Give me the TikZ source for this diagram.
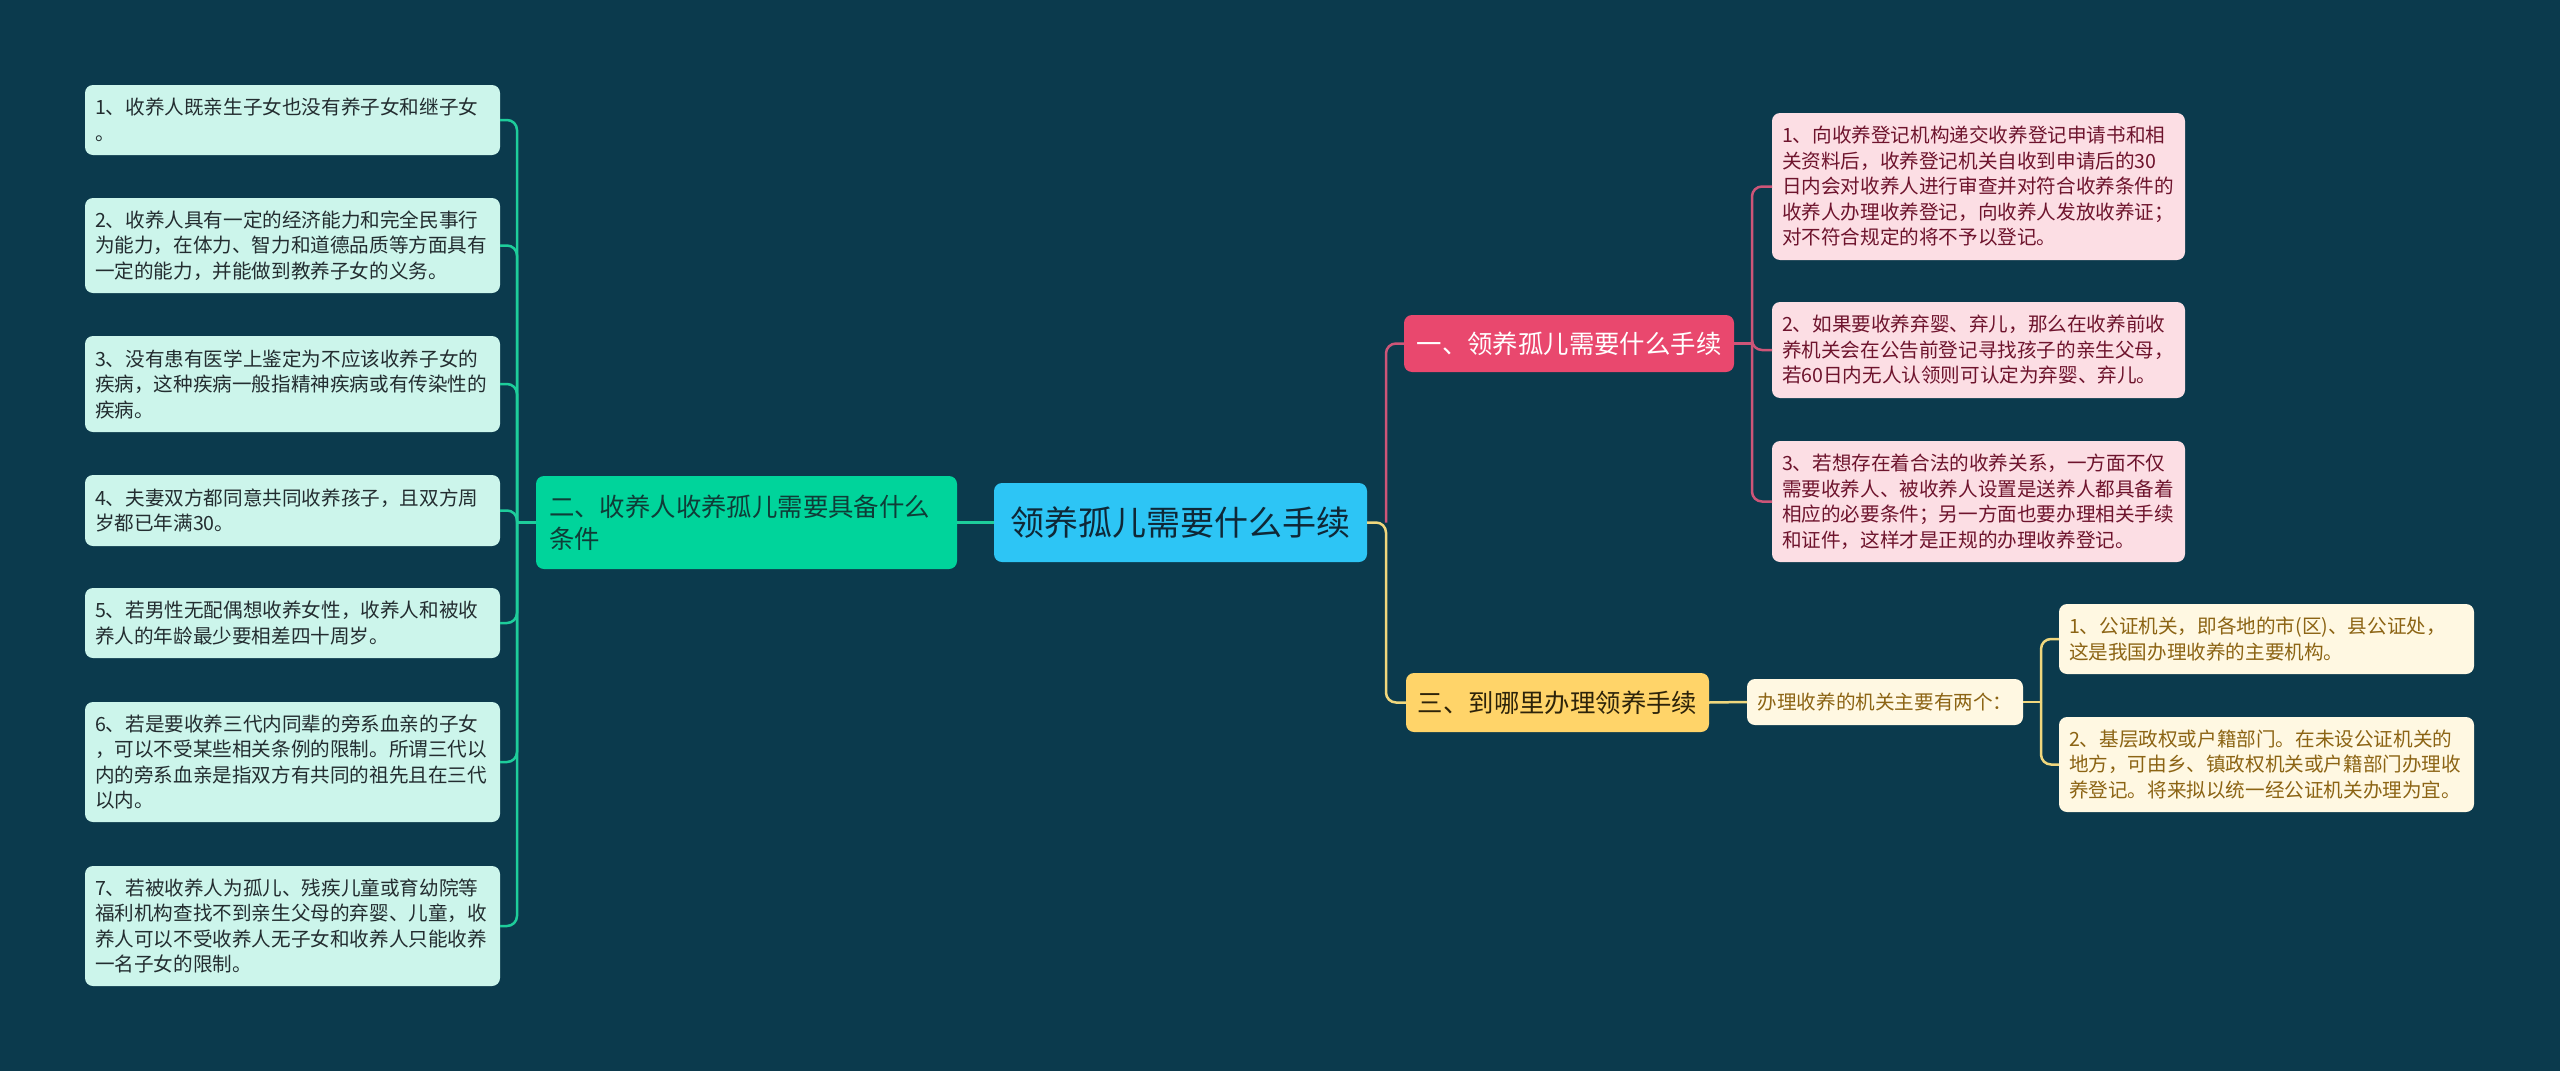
\documentclass[tikz,border=0pt]{standalone}
\usepackage{fontspec}
\setmainfont{Noto Sans CJK SC}

\begin{document}
\begin{tikzpicture}[x=1pt,y=-1pt,
  leaf/.style={rectangle, rounded corners=8pt, inner xsep=10pt, inner ysep=0pt, outer sep=0pt,
    text width=395pt, align=left, font=\fontsize{19.6}{25.5}\selectfont},
  topic/.style={rectangle, rounded corners=8pt, inner sep=0pt, outer sep=0pt, align=center,
    font=\fontsize{25.4}{32}\selectfont},
  link/.style={line width=2.5pt, rounded corners=10pt}]
  \definecolor{bg}{RGB}{11,58,77}
  \definecolor{mint}{RGB}{204,245,235}
  \definecolor{mintink}{RGB}{35,45,48}
  \definecolor{gline}{RGB}{30,205,155}
  \definecolor{twofill}{RGB}{0,212,155}
  \definecolor{twoink}{RGB}{15,60,55}
  \definecolor{rootfill}{RGB}{45,197,245}
  \definecolor{rootink}{RGB}{15,40,55}
  \definecolor{onefill}{RGB}{233,72,110}
  \definecolor{pline}{RGB}{205,85,120}
  \definecolor{pinkleaf}{RGB}{252,222,228}
  \definecolor{pinkink}{RGB}{110,20,45}
  \definecolor{threefill}{RGB}{255,212,105}
  \definecolor{threeink}{RGB}{45,35,10}
  \definecolor{yline}{RGB}{240,215,125}
  \definecolor{cream}{RGB}{255,248,226}
  \definecolor{creamink}{RGB}{140,100,20}

  \fill[bg] (0,0) rectangle (2560,1071);

  \node[topic, fill=rootfill, text=rootink, minimum width=373pt, minimum height=79pt,
    font=\fontsize{34}{40}\selectfont] (root) at (1180.5,522.5) {领养孤儿需要什么手续};
  \node[topic, fill=twofill, text=twoink, text width=395pt, inner xsep=13pt, align=left,
    minimum height=93pt] (two) at (746.5,522.5) {二、收养人收养孤儿需要具备什么\\条件};
  \node[topic, fill=onefill, text=white, minimum width=330pt, minimum height=57pt]
    (one) at (1569,343.5) {一、领养孤儿需要什么手续};
  \node[topic, fill=threefill, text=threeink, minimum width=303pt, minimum height=59pt]
    (three) at (1557.5,702.5) {三、到哪里办理领养手续};
  \node[topic, fill=cream, text=creamink, minimum width=276pt, minimum height=46pt,
    font=\fontsize{19.6}{25.5}\selectfont] (hub) at (1885,702) {办理收养的机关主要有两个：};

  \foreach \i/\cy/\h/\txt in {
    1/120/70/{1、收养人既亲生子女也没有养子女和继子女\\。},
    2/245.5/95/{2、收养人具有一定的经济能力和完全民事行\\为能力，在体力、智力和道德品质等方面具有\\一定的能力，并能做到教养子女的义务。},
    3/384/96/{3、没有患有医学上鉴定为不应该收养子女的\\疾病，这种疾病一般指精神疾病或有传染性的\\疾病。},
    4/510.5/71/{4、夫妻双方都同意共同收养孩子，且双方周\\岁都已年满30。},
    5/623/70/{5、若男性无配偶想收养女性，收养人和被收\\养人的年龄最少要相差四十周岁。},
    6/762/120/{6、若是要收养三代内同辈的旁系血亲的子女\\，可以不受某些相关条例的限制。所谓三代以\\内的旁系血亲是指双方有共同的祖先且在三代\\以内。},
    7/926/120/{7、若被收养人为孤儿、残疾儿童或育幼院等\\福利机构查找不到亲生父母的弃婴、儿童，收\\养人可以不受收养人无子女和收养人只能收养\\一名子女的限制。}
  } {
    \node[leaf, fill=mint, text=mintink, minimum height=\h pt] (l\i) at (292.5,\cy) {\txt};
  }

  \foreach \i/\cy/\h/\txt in {
    1/186.5/147/{1、向收养登记机构递交收养登记申请书和相\\关资料后，收养登记机关自收到申请后的30\\日内会对收养人进行审查并对符合收养条件的\\收养人办理收养登记，向收养人发放收养证；\\对不符合规定的将不予以登记。},
    2/350/96/{2、如果要收养弃婴、弃儿，那么在收养前收\\养机关会在公告前登记寻找孩子的亲生父母，\\若60日内无人认领则可认定为弃婴、弃儿。},
    3/501.5/121/{3、若想存在着合法的收养关系，一方面不仅\\需要收养人、被收养人设置是送养人都具备着\\相应的必要条件；另一方面也要办理相关手续\\和证件，这样才是正规的办理收养登记。}
  } {
    \node[leaf, fill=pinkleaf, text=pinkink, text width=393pt, minimum height=\h pt] (p\i) at (1978.5,\cy) {\txt};
  }

  \foreach \i/\cy/\h/\txt in {
    1/639/70/{1、公证机关，即各地的市(区)、县公证处，\\这是我国办理收养的主要机构。},
    2/764.5/95/{2、基层政权或户籍部门。在未设公证机关的\\地方，可由乡、镇政权机关或户籍部门办理收\\养登记。将来拟以统一经公证机关办理为宜。}
  } {
    \node[leaf, fill=cream, text=creamink, minimum height=\h pt] (y\i) at (2266.5,\cy) {\txt};
  }

  \coordinate (jl) at ([xshift=-19pt]two.west);
  \coordinate (jc) at ([xshift=19pt]root.east);
  \coordinate (jp) at ([xshift=18pt]one.east);
  \coordinate (jy) at ([xshift=18pt]hub.east);

  \draw[link, gline] (root.west) -- (two.east);
  \draw[link, gline] (two.west) -- (jl);
  \foreach \i in {1,...,7}
    \draw[link, gline] (l\i.east) -| (jl);

  \draw[link, pline] (jc) |- (one.west);
  \draw[link, yline] (root.east) -- (jc) |- (three.west);

  \draw[link, pline] (one.east) -- (jp);
  \foreach \i in {1,2,3}
    \draw[link, pline] (jp) |- (p\i.west);

  \draw[link, yline] (three.east) -- (hub.west);
  \draw[link, yline] (hub.east) -- (jy);
  \foreach \i in {1,2}
    \draw[link, yline] (jy) |- (y\i.west);
\end{tikzpicture}
\end{document}
